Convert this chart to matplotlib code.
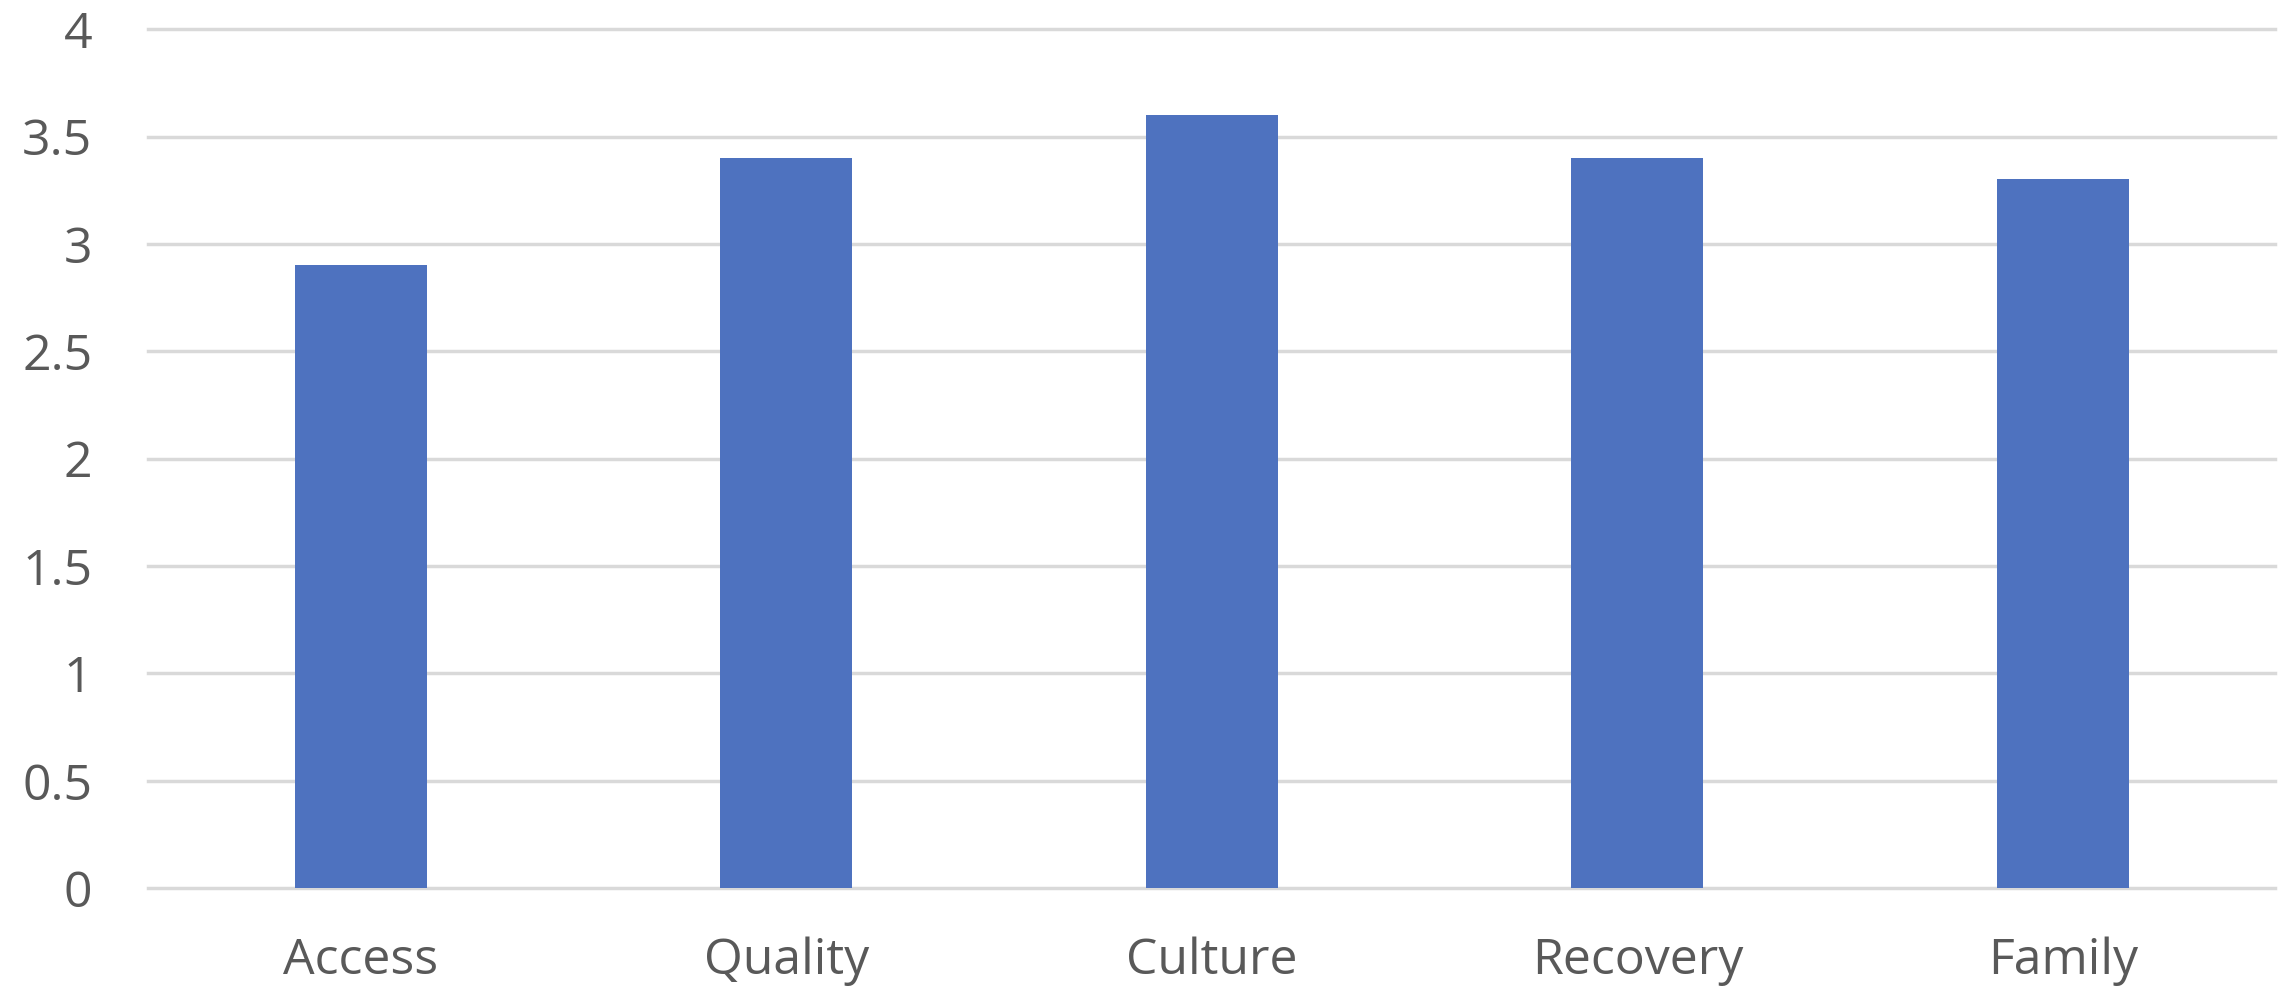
import matplotlib
matplotlib.use("Agg")
import matplotlib.pyplot as plt
import numpy as np

# ── Data ──────────────────────────────────────────────────────────────────────
categories = ["Access", "Quality", "Culture", "Recovery", "Family"]
scores     = [2.9, 3.4, 3.6, 3.4, 3.3]
yticks     = [0, 0.5, 1, 1.5, 2, 2.5, 3, 3.5, 4]
ytick_lbls = ["0", "0.5", "1", "1.5", "2", "2.5", "3", "3.5", "4"]

C_BAR  = "#4e72bf"
C_GRID = "#d9d9d9"
C_TEXT = "#595959"

plt.rcParams["font.family"] = ["Open Sans", "DejaVu Sans"]

fig = plt.figure(figsize=(22.95, 9.89), dpi=100)
fig.patch.set_facecolor("white")
ax = fig.add_axes([0.0645, 0.102, 0.927, 0.8685])

x = np.arange(len(categories))
ax.bar(x, scores, width=0.31, color=C_BAR, zorder=3)

ax.set_xlim(-0.5, len(categories) - 0.5)
ax.set_ylim(0, 4)
ax.set_yticks(yticks)
ax.set_yticklabels(ytick_lbls)
ax.set_xticks(x)
ax.set_xticklabels(categories)

ax.tick_params(axis="y", length=0, pad=40, labelsize=36, labelcolor=C_TEXT)
ax.tick_params(axis="x", length=0, pad=35, labelsize=36, labelcolor=C_TEXT)

ax.yaxis.grid(True, color=C_GRID, linewidth=2.5, zorder=0)
ax.set_axisbelow(True)
for gl in ax.yaxis.get_gridlines():
    gl.set_clip_on(False)
for s in ax.spines.values():
    s.set_visible(False)

fig.savefig("out.png", dpi=100, facecolor="white")
